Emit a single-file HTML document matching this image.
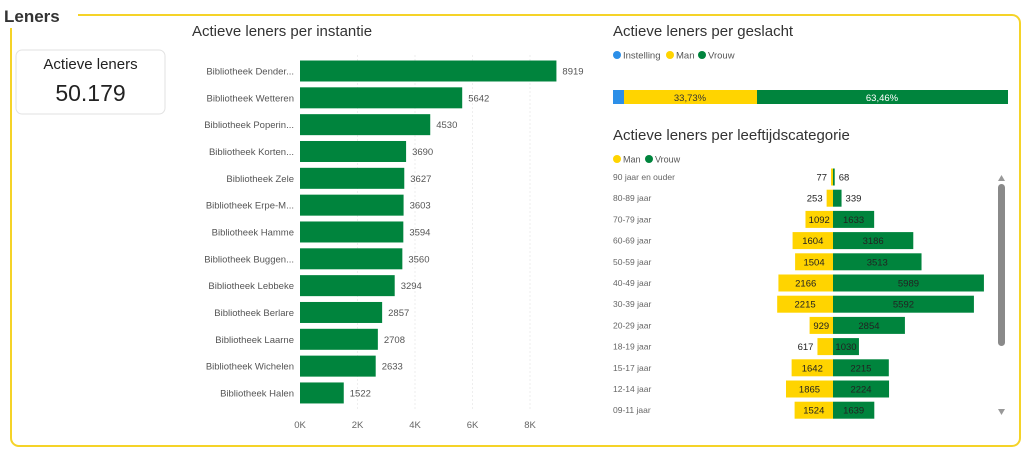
<!DOCTYPE html>
<html><head><meta charset="utf-8"><style>
html,body{margin:0;padding:0;background:#fff;width:1024px;height:455px;overflow:hidden;font-family:"Liberation Sans",sans-serif}
</style></head><body>
<svg width="1024" height="455" xmlns="http://www.w3.org/2000/svg" font-family="Liberation Sans, sans-serif">
<rect x="11" y="15" width="1009" height="431" rx="8" fill="none" stroke="#F5D328" stroke-width="2"/>
<rect x="0" y="0" width="78" height="28" fill="#fff"/>
<text x="4" y="22" font-size="17" font-weight="bold" fill="#333">Leners</text>
<rect x="16" y="50" width="149" height="64" rx="6" fill="#fff" stroke="#e2e2e2"/>
<text x="90.5" y="69" font-size="15" fill="#222" text-anchor="middle">Actieve leners</text>
<text x="90.5" y="101" font-size="23" fill="#222" text-anchor="middle">50.179</text>
<text x="192" y="36" font-size="15" fill="#333">Actieve leners per instantie</text>
<g stroke="#eee" stroke-dasharray="2,2">
<line x1="357.5" y1="55" x2="357.5" y2="410"/><line x1="415" y1="55" x2="415" y2="410"/><line x1="472.5" y1="55" x2="472.5" y2="410"/><line x1="530" y1="55" x2="530" y2="410"/>
</g>
<g font-size="9.5" fill="#666" text-anchor="middle">
<text x="300" y="428">0K</text><text x="357.5" y="428">2K</text><text x="415" y="428">4K</text><text x="472.5" y="428">6K</text><text x="530" y="428">8K</text>
</g>
<g id="left" font-size="9.5" fill="#555"></g>
<text x="613" y="36" font-size="15" fill="#333">Actieve leners per geslacht</text>
<circle cx="617" cy="55" r="4" fill="#2C8FE8"/><text x="623" y="58.5" font-size="9.5" fill="#555">Instelling</text>
<circle cx="670" cy="55" r="4" fill="#FFD400"/><text x="676" y="58.5" font-size="9.5" fill="#555">Man</text>
<circle cx="702" cy="55" r="4" fill="#00843D"/><text x="708" y="58.5" font-size="9.5" fill="#555">Vrouw</text>
<rect x="613" y="90" width="11" height="14" fill="#2C8FE8"/>
<rect x="624" y="90" width="133" height="14" fill="#FFD400"/>
<rect x="757" y="90" width="251" height="14" fill="#00843D"/>
<text x="690" y="101" font-size="9.5" fill="#333" text-anchor="middle">33,73%</text>
<text x="882" y="101" font-size="9.5" fill="#fff" text-anchor="middle">63,46%</text>
<text x="613" y="140" font-size="15" fill="#333">Actieve leners per leeftijdscategorie</text>
<circle cx="617" cy="159" r="4" fill="#FFD400"/><text x="623" y="162.5" font-size="9" fill="#555">Man</text>
<circle cx="649" cy="159" r="4" fill="#00843D"/><text x="655" y="162.5" font-size="9" fill="#555">Vrouw</text>
<g id="pyr" font-size="9.5"></g>
<polygon points="998,181 1005,181 1001.5,175" fill="#999"/>
<rect x="998" y="184" width="7" height="162" rx="3.5" fill="#8a8a8a"/>
<polygon points="998,409 1005,409 1001.5,415" fill="#999"/>
</svg>
<script>
var NS="http://www.w3.org/2000/svg";
function el(p,t,a,txt){var e=document.createElementNS(NS,t);for(var k in a)e.setAttribute(k,a[k]);if(txt!=null)e.textContent=txt;p.appendChild(e);return e;}
var L=[["Bibliotheek Dender...",8919],["Bibliotheek Wetteren",5642],["Bibliotheek Poperin...",4530],["Bibliotheek Korten...",3690],["Bibliotheek Zele",3627],["Bibliotheek Erpe-M...",3603],["Bibliotheek Hamme",3594],["Bibliotheek Buggen...",3560],["Bibliotheek Lebbeke",3294],["Bibliotheek Berlare",2857],["Bibliotheek Laarne",2708],["Bibliotheek Wichelen",2633],["Bibliotheek Halen",1522]];
var g=document.getElementById("left");
L.forEach(function(r,i){var cy=71+i*26.83,w=r[1]*0.02875;
el(g,"text",{x:294,y:cy+3.5,"text-anchor":"end"},r[0]);
el(g,"rect",{x:300,y:cy-10.5,width:w,height:21,fill:"#00843D"});
el(g,"text",{x:300+w+6,y:cy+3.5},r[1]);});
var P=[["90 jaar en ouder",77,68],["80-89 jaar",253,339],["70-79 jaar",1092,1633],["60-69 jaar",1604,3186],["50-59 jaar",1504,3513],["40-49 jaar",2166,5989],["30-39 jaar",2215,5592],["20-29 jaar",929,2854],["18-19 jaar",617,1030],["15-17 jaar",1642,2215],["12-14 jaar",1865,2224],["09-11 jaar",1524,1639]];
var p=document.getElementById("pyr"),c=833,s=0.0252;
P.forEach(function(r,i){var cy=177+i*21.2,m=r[1]*s,v=r[2]*s;
el(p,"text",{x:613,y:cy+3,fill:"#666","font-size":"8.5"},r[0]);
el(p,"rect",{x:c-m,y:cy-8.5,width:m,height:17,fill:"#FFD400"});
el(p,"rect",{x:c,y:cy-8.5,width:v,height:17,fill:"#00843D"});
if(m>20)el(p,"text",{x:c-m/2,y:cy+3.5,fill:"#222","text-anchor":"middle"},r[1]);else el(p,"text",{x:c-m-4,y:cy+3.5,fill:"#222","text-anchor":"end"},r[1]);
if(v>20)el(p,"text",{x:c+v/2,y:cy+3.5,fill:"#222","text-anchor":"middle"},r[2]);else el(p,"text",{x:c+v+4,y:cy+3.5,fill:"#222"},r[2]);});
</script>
</body></html>
